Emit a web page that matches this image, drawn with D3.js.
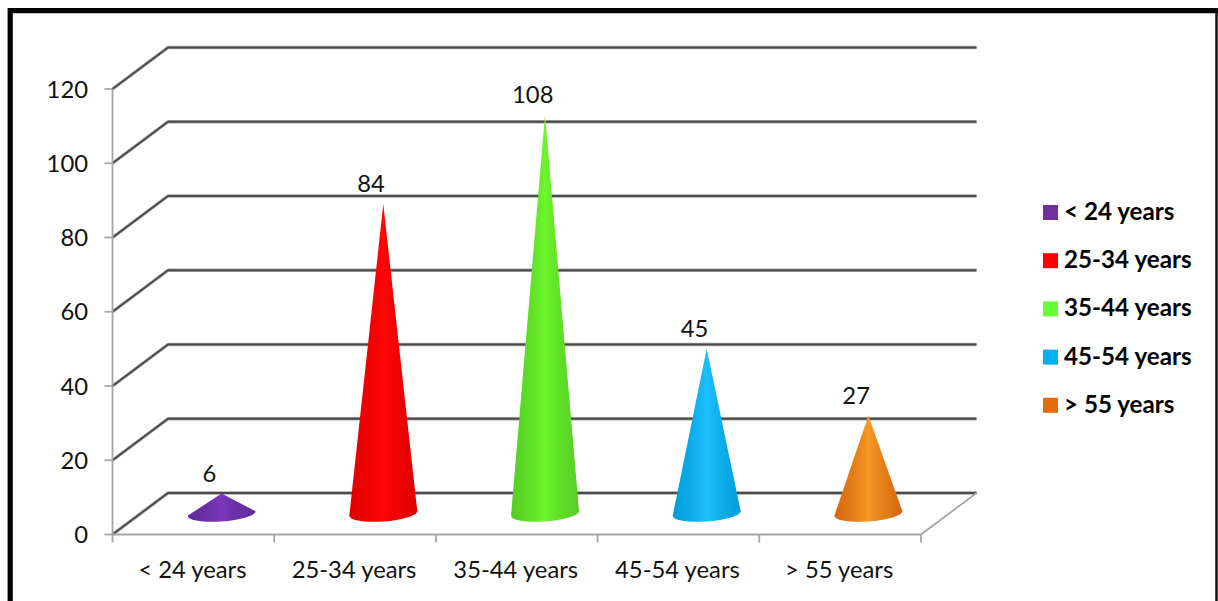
<!DOCTYPE html>
<html lang="en">
<head>
  <meta charset="UTF-8">
  <title>Age groups cone chart</title>
  <script src="https://d3js.org/d3.v7.min.js"></script>
  <style>
    html, body { margin: 0; padding: 0; background: #fff; overflow: hidden; }
    svg { display: block; }
    text { font-family: Lato, "Open Sans", sans-serif; fill: #111; }
    .tick-label { font-size: 23.8px; }
    .value-label { font-size: 23.8px; text-anchor: middle; }
    .legend-label { font-size: 24.2px; font-weight: bold; fill: #000; }
  </style>
</head>
<body>
  <svg width="1218" height="601"></svg>
  <script>
    const categories = ["< 24 years", "25-34 years", "35-44 years", "45-54 years", "> 55 years"];
    const values = [6, 84, 108, 45, 27];
    const yTicks = [0, 20, 40, 60, 80, 100, 120];
    const edgeColors = ["#5e2a9a", "#e00000", "#56cc24", "#009cd8", "#d4660c"];
    const midColors = ["#7c36ba", "#ff0505", "#6ef52c", "#1cc0ff", "#f99a26"];
    const legendColors = ["#7030a0", "#ff0000", "#66ff33", "#00b0f0", "#e46c0a"];

    const svg = d3.select("svg");

    const plot = { left: 112.5, right: 921, top: 89, bottom: 534.5 };
    const depthX = 55.5, depthY = 41.5;
    const coneRx = 34, coneRy = 8;

    const x = d3.scaleBand().domain(categories).range([plot.left, plot.right]);
    const y = d3.scaleLinear().domain([0, 120]).range([plot.bottom, plot.top]);

    // frame around the picture, right side is thinner
    svg.append("path")
      .attr("d", "M10.2,601 V10.6 H1218")
      .attr("fill", "none").attr("stroke", "#000").attr("stroke-width", 5.2);
    svg.append("line")
      .attr("x1", 1216.5).attr("x2", 1216.5).attr("y1", 8).attr("y2", 601)
      .attr("stroke", "#111").attr("stroke-width", 2.5);

    // gridlines: side wall + back wall, doubled for the soft edge of the original
    const grid = svg.append("g").attr("fill", "none").attr("stroke-linejoin", "round");
    yTicks.forEach(t => {
      const d = `M${plot.left},${y(t)} L${plot.left + depthX},${y(t) - depthY} H${plot.right + depthX}`;
      grid.append("path").attr("d", d).attr("stroke", "#a8a8a8").attr("stroke-width", 3.4);
      grid.append("path").attr("d", d).attr("stroke", "#4a4a4a").attr("stroke-width", 1.8);
    });

    // axis lines
    const axisColor = "#a6a6a6";
    const axes = svg.append("g").attr("stroke", axisColor).attr("stroke-width", 1.8).attr("fill", "none");
    axes.append("path").attr("d", `M${plot.left},${plot.top} V${plot.bottom} H${plot.right} L${plot.right + depthX},${plot.bottom - depthY}`);
    yTicks.forEach(t => {
      axes.append("line").attr("x1", plot.left - 8).attr("x2", plot.left).attr("y1", y(t)).attr("y2", y(t));
    });
    categories.concat([null]).forEach((c, i) => {
      const px = plot.left + i * x.bandwidth();
      axes.append("line").attr("x1", px).attr("x2", px).attr("y1", plot.bottom).attr("y2", plot.bottom + 8);
    });

    svg.selectAll(".y-label").data(yTicks).enter().append("text")
      .attr("class", "tick-label")
      .attr("x", 88).attr("y", d => y(d) + 8.5)
      .attr("text-anchor", "end")
      .text(d => d);

    svg.selectAll(".x-label").data(categories).enter().append("text")
      .attr("class", "tick-label")
      .attr("x", d => x(d) + x.bandwidth() / 2 - 1)
      .attr("y", 578)
      .attr("text-anchor", "middle")
      .text(d => d);

    // cone shading
    const defs = svg.append("defs");
    categories.forEach((c, i) => {
      const blend = d3.interpolateRgb(edgeColors[i], midColors[i]);
      const g = defs.append("linearGradient").attr("id", "cone" + i)
        .attr("x1", "0").attr("x2", "1").attr("y1", "0").attr("y2", "0");
      g.append("stop").attr("offset", "0").attr("stop-color", edgeColors[i]);
      g.append("stop").attr("offset", "0.36").attr("stop-color", blend(0.6));
      g.append("stop").attr("offset", "0.5").attr("stop-color", midColors[i]);
      g.append("stop").attr("offset", "0.64").attr("stop-color", blend(0.6));
      g.append("stop").attr("offset", "1").attr("stop-color", edgeColors[i]);
    });

    const coneX = c => x(c) + x.bandwidth() / 2 + depthX / 2 + 0.5;
    const coneBase = y(0) - depthY / 2;
    const tipInset = 2; // the tips fade out in the original

    // base ellipse leans a little, left end lower than right end
    svg.selectAll(".cone").data(categories).enter().append("path")
      .attr("class", "cone")
      .attr("fill", (c, i) => `url(#cone${i})`)
      .attr("d", (c, i) => {
        const cx = coneX(c), apex = y(values[i]) - depthY / 2 + tipInset;
        return `M${cx},${apex} L${cx + coneRx},${coneBase - 2.5} A${coneRx},${coneRy} -4 0 1 ${cx - coneRx},${coneBase + 2} Z`;
      });

    svg.selectAll(".value-label").data(values).enter().append("text")
      .attr("class", "value-label")
      .attr("x", (d, i) => x(categories[i]) + x.bandwidth() / 2 + 16)
      .attr("y", d => y(d) - 30.5)
      .text(d => d);

    // legend
    const legend = svg.selectAll(".legend").data(categories).enter().append("g")
      .attr("class", "legend")
      .attr("transform", (d, i) => `translate(1043,${205 + i * 48.2})`);
    legend.append("rect").attr("width", 15).attr("height", 15).attr("fill", (d, i) => legendColors[i]);
    legend.append("text").attr("class", "legend-label").attr("x", 21).attr("y", 15).text(d => d);
  </script>
</body>
</html>
